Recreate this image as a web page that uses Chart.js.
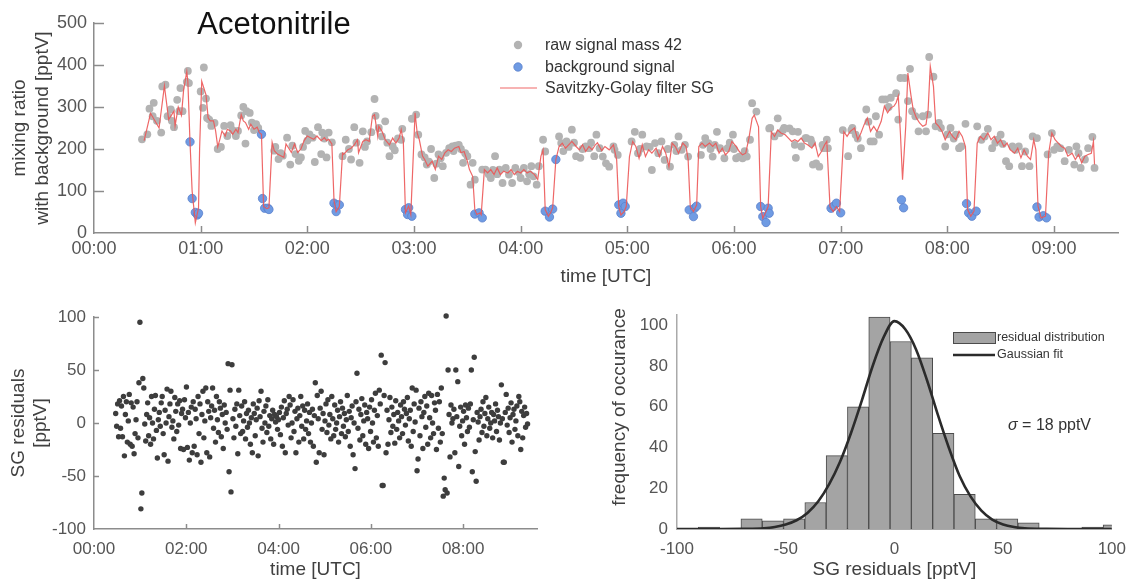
<!DOCTYPE html>
<html><head><meta charset="utf-8">
<script src="https://cdn.jsdelivr.net/npm/chart.js@4.4.0/dist/chart.umd.min.js"></script>
<style>
html,body{margin:0;padding:0;background:#fff;}
body{width:1136px;height:581px;position:relative;overflow:hidden;}
.box{position:absolute;}
canvas{display:block;}
</style></head><body>
<div class="box" style="left:0;top:0;"><canvas id="top" width="1136" height="290"></canvas></div>
<div class="box" style="left:0;top:290px;"><canvas id="res" width="560" height="291"></canvas></div>
<div class="box" style="left:570px;top:290px;"><canvas id="hist" width="566" height="291"></canvas></div>
<script>
// ---------------- data ----------------
const hourTicks = [0,1,2,3,4,5,6,7,8,9];
// raw signal mass 42 : [time (h UTC), pptV]
const rawSeries = [
[0.45,223],[0.50,235],[0.52,296],[0.55,278],[0.56,310],[0.59,267],[0.63,239],[0.64,349],[0.67,353],[0.69,278],[0.72,294],[0.73,267],[0.75,252],[0.78,317],[0.80,290],[0.81,345],[0.83,290],[0.87,360],[0.88,386],[0.89,357],
[1.00,337],[1.02,298],[1.03,394],[1.05,320],[1.06,274],[1.08,270],[1.10,255],[1.13,262],[1.16,200],[1.19,205],[1.22,255],[1.25,231],[1.28,257],[1.30,245],[1.33,231],[1.35,243],[1.38,280],[1.40,300],[1.42,213],[1.43,290],[1.46,286],[1.48,263],[1.50,245],[1.52,259],[1.54,250],
[1.69,196],[1.70,205],[1.73,176],[1.75,190],[1.77,184],[1.81,227],[1.84,163],[1.86,208],[1.89,188],[1.92,172],[1.94,180],[1.96,205],[1.98,243],[2.00,220],[2.02,235],[2.05,227],[2.07,169],[2.10,252],[2.13,188],[2.14,239],[2.16,225],[2.18,180],[2.20,239],[2.23,216],
[2.33,183],[2.36,222],[2.39,200],[2.41,175],[2.44,252],[2.46,215],[2.49,167],[2.52,242],[2.54,205],[2.56,218],[2.60,240],[2.63,319],[2.64,279],[2.67,250],[2.70,230],[2.73,266],[2.75,215],[2.77,183],[2.80,206],[2.82,197],[2.85,225],[2.88,222],[2.89,248],
[2.98,272],[3.02,282],[3.04,234],[3.07,187],[3.10,180],[3.12,163],[3.14,170],[3.16,200],[3.19,131],[3.21,165],[3.23,187],[3.25,178],[3.27,159],[3.30,191],[3.33,202],[3.36,206],[3.37,195],[3.39,208],[3.42,210],[3.44,200],[3.46,167],[3.48,190],[3.50,183],[3.53,115],[3.55,167],[3.57,127],
[3.64,151],[3.67,151],[3.70,140],[3.72,131],[3.74,150],[3.76,183],[3.78,140],[3.80,151],[3.83,119],[3.86,155],[3.89,139],[3.92,119],[3.95,155],[3.98,145],[4.00,131],[4.03,155],[4.06,123],[4.08,140],[4.10,159],[4.12,135],[4.15,115],[4.17,159],[4.21,222],[4.23,194],
[4.36,230],[4.38,214],[4.40,195],[4.43,218],[4.45,205],[4.48,246],[4.50,215],[4.52,183],[4.56,179],[4.58,200],[4.61,206],[4.64,202],[4.66,215],[4.69,183],[4.71,234],
[4.74,202],[4.77,182],[4.80,166],[4.83,158],[4.87,206],[4.88,198],[4.91,186],
[5.04,218],[5.07,241],[5.10,190],[5.12,200],[5.14,234],[5.18,206],[5.21,205],[5.23,150],[5.26,214],[5.29,190],[5.32,218],[5.35,174],[5.38,200],[5.40,158],[5.44,210],[5.46,195],[5.48,230],[5.51,198],[5.54,210],[5.57,182],
[5.69,186],[5.71,210],[5.73,226],[5.76,214],[5.78,200],[5.80,182],[5.82,210],[5.84,241],[5.87,202],[5.91,178],[5.94,202],[5.96,215],[5.99,234],[6.00,200],[6.02,178],[6.05,182],[6.08,178],[6.10,195],[6.12,182],[6.15,222],[6.17,309],[6.21,289],
[6.33,249],[6.34,250],[6.38,230],[6.41,273],[6.43,238],[6.46,245],[6.47,250],[6.52,249],[6.55,242],[6.57,210],[6.58,179],[6.60,241],[6.63,206],[6.67,226],[6.68,226],[6.72,222],[6.73,214],[6.74,163],[6.77,166],[6.80,158],[6.83,210],[6.84,202],[6.87,222],[6.88,202],
[7.02,245],[7.07,183],[7.10,245],[7.11,250],[7.14,234],[7.16,225],[7.19,202],[7.24,294],[7.26,265],[7.28,218],[7.31,218],[7.33,278],[7.36,234],[7.39,318],[7.42,318],[7.45,300],[7.47,322],[7.52,333],[7.54,270],[7.56,369],[7.60,369],[7.63,314],[7.65,391],[7.67,290],[7.70,278],[7.73,242],[7.77,278],[7.80,242],[7.82,282],[7.83,419],[7.87,372],[7.89,254],[7.92,262],[7.94,250],[7.98,206],
[8.00,235],[8.03,250],[8.06,225],[8.08,234],[8.11,202],[8.13,206],[8.17,260],[8.28,254],[8.32,222],[8.35,230],[8.38,248],[8.42,202],[8.45,215],[8.47,222],[8.50,234],[8.52,212],[8.55,171],[8.58,159],[8.61,206],[8.64,198],[8.67,206],[8.70,159],[8.73,194],[8.77,159],[8.80,230],[8.84,226],
[8.94,187],[8.98,238],[9.00,198],[9.03,206],[9.06,202],[9.10,171],[9.14,198],[9.19,163],[9.21,206],[9.23,190],[9.25,155],[9.29,175],[9.32,202],[9.36,229],[9.38,155]
];
// background signal : [time (h UTC), pptV]
const bgSeries = [
[0.90,217],[0.92,82],[0.95,49],[0.97,43],[0.98,47],[1.57,235],[1.58,82],[1.60,59],[1.63,59],[1.64,56],
[2.25,71],[2.27,51],[2.28,67],[2.30,67],[2.92,56],[2.94,44],[2.95,60],[2.98,40],[3.57,45],[3.61,48],[3.64,36],
[4.23,52],[4.27,38],[4.30,57],[4.33,175],[4.92,67],[4.94,47],[4.96,71],[4.98,63],[5.58,55],[5.62,39],[5.63,59],[5.65,64],
[6.25,63],[6.27,39],[6.30,25],[6.32,59],[6.33,47],[6.91,59],[6.93,63],[6.96,71],[7.00,48],[7.57,79],[7.59,60],
[8.18,70],[8.20,48],[8.23,40],[8.27,52],[8.84,62],[8.86,38],[8.90,41],[8.93,36]
];
// Savitzky-Golay filter : [time (h UTC), pptV]
const sgSeries = [
[0.47,220],[0.53,285],[0.61,250],[0.66,350],[0.70,270],[0.75,290],[0.76,255],[0.79,300],[0.82,280],[0.84,340],[0.87,384],[0.88,360],[0.90,217],[0.92,100],[0.95,24],[0.98,60],[0.99,200],
[1.01,361],[1.05,329],[1.07,274],[1.09,267],[1.12,267],[1.14,243],[1.16,205],[1.18,223],[1.20,243],[1.23,231],[1.25,247],[1.28,243],[1.30,235],[1.33,247],[1.35,239],[1.38,282],[1.40,267],[1.42,263],[1.45,247],[1.47,259],[1.50,247],[1.53,252],[1.55,239],[1.57,235],[1.59,63],[1.62,58],[1.64,60],
[1.67,216],[1.69,196],[1.72,188],[1.75,184],[1.78,180],[1.80,212],[1.83,200],[1.85,192],[1.88,212],[1.91,192],[1.94,200],[1.97,220],[2.00,231],[2.03,227],[2.06,223],[2.09,231],[2.13,220],[2.16,227],[2.18,220],[2.20,223],[2.23,212],[2.25,78],[2.27,51],[2.30,63],
[2.33,190],[2.34,187],[2.38,198],[2.41,202],[2.44,210],[2.47,222],[2.48,191],[2.52,218],[2.55,222],[2.58,218],[2.61,278],[2.63,282],[2.66,230],[2.67,254],[2.70,242],[2.73,222],[2.77,210],[2.80,226],[2.83,214],[2.86,226],[2.88,246],[2.90,218],[2.92,48],[2.95,64],[2.97,44],
[3.01,286],[3.03,238],[3.05,222],[3.08,183],[3.10,175],[3.13,159],[3.17,171],[3.20,151],[3.23,183],[3.26,175],[3.29,191],[3.32,198],[3.35,194],[3.38,202],[3.42,206],[3.44,191],[3.47,194],[3.50,171],[3.52,151],[3.55,135],[3.57,56],[3.59,44],[3.62,48],[3.63,44],
[3.66,151],[3.69,143],[3.72,151],[3.75,139],[3.78,155],[3.81,139],[3.84,147],[3.88,143],[3.91,151],[3.94,139],[3.97,147],[4.00,143],[4.03,151],[4.06,143],[4.09,147],[4.13,139],[4.16,127],[4.19,183],[4.21,198],[4.23,56],[4.26,40],[4.28,48],[4.30,60],
[4.33,175],[4.36,206],[4.39,214],[4.42,202],[4.45,210],[4.48,218],[4.52,206],[4.55,198],[4.58,210],[4.61,194],[4.64,206],[4.67,198],[4.70,210],[4.72,215],[4.76,196],[4.79,206],[4.83,198],[4.87,210],[4.90,174],[4.92,63],[4.94,43],[4.97,51],[4.99,63],
[5.02,182],[5.05,218],[5.08,206],[5.11,178],[5.14,210],[5.17,182],[5.20,198],[5.23,190],[5.27,202],[5.30,182],[5.33,206],[5.36,190],[5.39,158],[5.42,214],[5.45,206],[5.48,190],[5.52,214],[5.55,206],[5.57,174],[5.59,63],[5.62,51],[5.65,67],
[5.67,206],[5.70,214],[5.73,206],[5.77,214],[5.80,206],[5.83,214],[5.86,190],[5.89,202],[5.92,186],[5.95,194],[5.98,218],[6.02,206],[6.05,194],[6.08,186],[6.11,190],[6.14,226],[6.17,273],[6.19,281],[6.23,253],[6.25,63],[6.27,35],[6.30,51],[6.32,63],
[6.35,241],[6.38,230],[6.41,245],[6.44,238],[6.48,234],[6.51,226],[6.54,218],[6.57,222],[6.60,218],[6.63,226],[6.66,214],[6.69,210],[6.73,202],[6.76,214],[6.79,182],[6.82,194],[6.85,210],[6.87,218],[6.90,63],[6.93,51],[6.96,63],[6.99,51],
[7.03,241],[7.06,230],[7.09,242],[7.13,250],[7.16,222],[7.19,238],[7.22,258],[7.25,274],[7.28,242],[7.31,254],[7.34,242],[7.38,266],[7.41,302],[7.44,286],[7.47,298],[7.50,302],[7.52,310],[7.54,326],[7.56,238],[7.58,127],[7.61,254],[7.63,381],
[7.66,326],[7.68,294],[7.71,274],[7.74,262],[7.77,254],[7.80,258],[7.82,294],[7.84,397],[7.87,349],[7.89,262],[7.92,254],[7.95,242],[7.98,222],[8.02,242],[8.05,230],[8.08,222],[8.11,242],[8.14,230],[8.17,206],[8.19,56],[8.22,40],[8.25,52],
[8.28,214],[8.31,230],[8.34,222],[8.38,238],[8.41,222],[8.44,230],[8.47,214],[8.50,222],[8.53,206],[8.56,214],[8.59,198],[8.63,190],[8.66,202],[8.69,179],[8.72,198],[8.75,183],[8.78,175],[8.81,222],[8.83,198],[8.85,64],[8.88,36],[8.92,40],
[8.95,190],[8.98,238],[9.01,222],[9.04,214],[9.07,206],[9.10,202],[9.13,183],[9.17,190],[9.20,175],[9.23,187],[9.26,167],[9.29,183],[9.32,187],[9.35,190],[9.37,218],[9.38,163]
];
// SG residuals, sampled every 1.26 min from 00:28 UTC
const residualStartHour = 0.47;
const residualStepHour = 0.021;
const residualValues = [
9,-3,18,-13,21,-5,16,-13,25,-31,
8,20,-18,2,27,-20,19,-22,15,-29,
-10,3,20,-14,38,95,-81,-66,42,33,
-1,-17,8,19,-12,5,-20,25,0,-15,
13,26,-7,-33,3,10,-3,19,25,-10,
-30,12,0,32,-36,6,18,30,-4,2,
-15,24,11,-8,18,-2,21,-24,9,13,
-25,22,5,34,-23,10,-35,0,15,-28,
20,-22,13,4,-30,25,-10,18,-37,8,
30,-14,2,33,-28,20,11,-32,5,16,
33,-5,12,-18,25,3,-9,20,14,-13,
8,-24,17,0,10,-6,56,-46,31,-65,
55,4,-14,13,-3,18,-29,31,7,-10,
16,-8,2,20,-15,9,-4,12,0,-20,
5,-28,18,9,-12,3,14,-31,21,6,
30,-5,-18,11,0,16,-9,22,-3,7,
-15,4,12,-20,8,1,6,-6,3,10,
-11,15,-22,5,21,-28,9,13,-2,25,
17,-14,0,22,-8,11,-28,4,14,-18,
7,25,-3,16,-15,12,-6,2,18,-10,
10,-18,0,13,-22,7,38,-37,26,4,
-28,14,30,-6,9,-30,2,18,-9,22,
-2,8,-15,25,4,-12,17,-6,0,12,
-18,6,20,-10,14,-3,9,-13,3,26,
-8,11,-22,5,16,-30,0,-43,20,47,
-5,13,-16,8,23,-12,2,17,-20,10,
4,-24,15,-8,22,0,-18,12,28,-14,
7,-22,31,18,64,-59,-59,26,57,-28,
12,-20,3,24,-9,15,-3,8,-19,21,
-6,10,2,-14,17,6,-10,20,13,-2,
9,24,-17,4,12,-22,33,-8,18,1,
31,-45,-34,14,-12,20,6,-24,10,25,
-4,16,-20,28,5,-14,26,0,-10,19,
12,-25,27,-5,20,-18,33,-10,-69,-52,
-63,101,-66,50,8,-32,17,0,4,13,
-28,50,6,39,-41,-3,15,-12,2,11,
-20,17,5,-8,14,-4,18,50,-46,3,
62,-27,-55,10,1,-16,6,13,-9,20,
-3,9,24,-12,4,15,-5,0,10,-14,
8,2,18,-8,12,6,-16,0,36,4,
-37,-37,10,27,-2,14,-9,5,19,-18,
8,13,-6,2,16,-12,25,20,-25,11,
-14,7,15,-4,9,-1
];
// histogram of residuals
const binCenters = [-95.1,-85.3,-75.5,-65.7,-55.9,-46.1,-36.3,-26.5,-16.7,-6.9,2.9,12.7,22.5,32.3,42.1,51.9,61.7,71.5,81.3,91.1,100.9];
const binCounts  = [0,1,0,5,4,5,13,36,60,104,92,84,47,17,5,5,3,0,0,1,2];
// Gaussian fit curve (sigma = 18 pptV)
const gaussX = [-100,-80,-70,-60,-55,-50,-45,-40,-35,-30,-25,-20,-15,-10,-5,0,5,10,15,20,25,30,35,40,45,50,55,60,70,80,100];
const gaussY = [0,0,0.1,0.4,1.0,2.2,4.3,7.9,13.6,22,33,47,63,80,94,102,98,88,73,56,40,26,16,9,4.6,2.2,1,0.4,0.1,0,0];

// ---------------- helpers ----------------
const FONT = "'Liberation Sans', Arial, Helvetica, sans-serif";
Chart.defaults.font.family = FONT;
const hhmm = v => (v < 10 ? '0' : '') + v + ':00';
const pts = arr => arr.map(p => ({x: p[0], y: p[1]}));

const inwardTicks = {
  id: 'inwardTicks',
  afterDatasetsDraw(chart, args, o) {
    if (!o || (!o.x && !o.y)) return;
    const ctx = chart.ctx, a = chart.chartArea, xs = chart.scales.x, ys = chart.scales.y;
    ctx.save();
    ctx.strokeStyle = o.color; ctx.lineWidth = o.width || 1;
    if (o.x) xs.ticks.forEach(t => {
      const p = Math.round(xs.getPixelForValue(t.value)) + 0.5;
      if (p <= a.left + 2) return;
      ctx.beginPath(); ctx.moveTo(p, a.bottom); ctx.lineTo(p, a.bottom - o.x); ctx.stroke();
    });
    if (o.y) ys.ticks.forEach(t => {
      const p = Math.round(ys.getPixelForValue(t.value)) + 0.5;
      if (p >= a.bottom - 2) return;
      ctx.beginPath(); ctx.moveTo(a.left, p); ctx.lineTo(a.left + o.y, p); ctx.stroke();
    });
    ctx.restore();
  }
};

function axisCommon(size, pad) {
  return {
    grid: {display: false, drawTicks: false},
    border: {display: true, color: '#8c8c8c', width: 1.5},
    ticks: {font: {size: size}, color: '#555', padding: pad, maxRotation: 0, autoSkip: false, includeBounds: false}
  };
}

// ---------------- top chart ----------------
const topDecor = {
  id: 'topDecor',
  afterDraw(chart) {
    const ctx = chart.ctx;
    ctx.save();
    ctx.fillStyle = '#111';
    ctx.font = '31px ' + FONT;
    ctx.textAlign = 'center'; ctx.textBaseline = 'middle';
    ctx.fillText('Acetonitrile', 274, 25);
    const ds = chart.data.datasets;
    ctx.font = '16px ' + FONT; ctx.textAlign = 'left'; ctx.fillStyle = '#333';
    const rows = [
      {y: 45, label: ds[2].label, kind: 'dot', fill: ds[2].backgroundColor, stroke: null},
      {y: 67, label: ds[1].label, kind: 'dot', fill: ds[1].backgroundColor, stroke: ds[1].borderColor},
      {y: 88, label: ds[0].label, kind: 'line', stroke: ds[0].borderColor}
    ];
    rows.forEach(r => {
      if (r.kind === 'dot') {
        ctx.beginPath(); ctx.arc(518, r.y, 4.2, 0, Math.PI * 2);
        ctx.fillStyle = r.fill; ctx.fill();
        if (r.stroke) { ctx.strokeStyle = r.stroke; ctx.lineWidth = 0.8; ctx.stroke(); }
      } else {
        ctx.beginPath(); ctx.moveTo(500, r.y); ctx.lineTo(537, r.y);
        ctx.strokeStyle = r.stroke; ctx.lineWidth = 1.2; ctx.stroke();
      }
      ctx.fillStyle = '#333';
      ctx.fillText(r.label, 545, r.y + 1);
    });
    ctx.restore();
  }
};

new Chart(document.getElementById('top'), {
  type: 'scatter',
  data: {datasets: [
    {label: 'Savitzky-Golay filter SG', data: pts(sgSeries), showLine: true, borderColor: 'rgba(236,86,86,0.9)', borderWidth: 1.2, pointRadius: 0, order: 0},
    {label: 'background signal', data: pts(bgSeries), pointRadius: 4.2, backgroundColor: '#6f9be3', borderColor: '#5a80cc', borderWidth: 0.8, order: 1},
    {label: 'raw signal mass 42', data: pts(rawSeries), pointRadius: 3.9, backgroundColor: '#b3b3b3', borderWidth: 0, order: 2}
  ]},
  options: {
    responsive: false, animation: false, events: [],
    layout: {padding: {top: 23, right: 18, left: 0, bottom: 0}},
    plugins: {legend: {display: false}, tooltip: {enabled: false}, inwardTicks: {x: 7, y: 10, color: '#8c8c8c', width: 1.5}},
    scales: {
      x: Object.assign(axisCommon(18, 5), {
        type: 'linear', min: 0, max: 9.6,
        afterBuildTicks: s => { s.ticks = hourTicks.map(v => ({value: v})); },
        title: {display: true, text: 'time [UTC]', font: {size: 19}, color: '#404040', padding: {top: 0, bottom: 2}},
        afterFit: s => { s.height = 57; }
      }),
      y: Object.assign(axisCommon(18, 7), {
        min: 0, max: 500,
        title: {display: true, text: ['mixing ratio', 'with background [pptV]'], font: {size: 19}, color: '#404040', padding: {top: 8.6, bottom: 0}},
        afterFit: s => { s.width = 94; }
      })
    }
  },
  plugins: [inwardTicks, topDecor]
});
{
  const c = Chart.getChart('top');
  c.options.scales.x.ticks.callback = v => hhmm(v);
  c.options.scales.y.ticks.stepSize = 100;
  c.update();
}

// ---------------- residual scatter ----------------
const resPoints = residualValues.map((v, i) => ({x: residualStartHour + i * residualStepHour, y: v}));
new Chart(document.getElementById('res'), {
  type: 'scatter',
  data: {datasets: [{label: 'SG residuals', data: resPoints, pointRadius: 2.7, backgroundColor: '#3d3d3d', borderWidth: 0, clip: false}]},
  options: {
    responsive: false, animation: false, events: [],
    layout: {padding: {top: 27, right: 23, left: 0, bottom: 0}},
    plugins: {legend: {display: false}, tooltip: {enabled: false}, inwardTicks: {x: 5, y: 5, color: '#8c8c8c', width: 1.5}},
    scales: {
      x: Object.assign(axisCommon(17, 10), {
        type: 'linear', min: 0, max: 9.6,
        title: {display: true, text: 'time [UTC]', font: {size: 19}, color: '#404040', padding: {top: 0, bottom: 0}},
        afterFit: s => { s.height = 52; }
      }),
      y: Object.assign(axisCommon(17, 8), {
        min: -100, max: 100,
        title: {display: true, text: ['SG residuals', '[pptV]'], font: {size: 19}, color: '#404040', padding: {top: 7, bottom: 0}},
        afterFit: s => { s.width = 94; }
      })
    }
  },
  plugins: [inwardTicks]
});
{
  const c = Chart.getChart('res');
  c.options.scales.x.ticks.stepSize = 2;
  c.options.scales.x.ticks.callback = v => hhmm(v);
  c.options.scales.y.ticks.stepSize = 50;
  c.update();
}

// ---------------- histogram ----------------
const histYTitle = 'frequency of occurance';
const histDecor = {
  id: 'histDecor',
  afterDraw(chart) {
    const ctx = chart.ctx, ds = chart.data.datasets;
    const ox = 570, oy = 290; // canvas offset on page
    ctx.save();
    ctx.fillStyle = ds[1].backgroundColor; ctx.strokeStyle = ds[1].borderColor; ctx.lineWidth = 1;
    ctx.fillRect(953 - ox, 332 - oy, 42, 11); ctx.strokeRect(953.5 - ox, 332.5 - oy, 42, 11);
    ctx.beginPath(); ctx.moveTo(953 - ox, 355 - oy); ctx.lineTo(995 - ox, 355 - oy);
    ctx.strokeStyle = ds[0].borderColor; ctx.lineWidth = 2.6; ctx.stroke();
    ctx.fillStyle = '#333'; ctx.font = '12.5px ' + FONT; ctx.textBaseline = 'middle'; ctx.textAlign = 'left';
    ctx.fillText(ds[1].label, 997 - ox, 338 - oy);
    ctx.fillText(ds[0].label, 997 - ox, 355 - oy);
    ctx.font = 'italic 16px ' + FONT;
    ctx.fillText('\u03C3', 1008 - ox, 426 - oy);
    const w = ctx.measureText('\u03C3').width;
    ctx.font = '16px ' + FONT;
    ctx.fillText(' = 18 pptV', 1008 - ox + w, 426 - oy);
    // y axis title (placed as in the original, slightly above centre)
    ctx.translate(620 - ox, 407 - oy);
    ctx.rotate(-Math.PI / 2);
    ctx.font = '19px ' + FONT; ctx.fillStyle = '#404040'; ctx.textAlign = 'center';
    ctx.fillText(histYTitle, 0, 0);
    ctx.restore();
  }
};

new Chart(document.getElementById('hist'), {
  type: 'bar',
  data: {datasets: [
    {type: 'line', label: 'Gaussian fit', data: gaussX.map((x, i) => ({x: x, y: gaussY[i]})), borderColor: '#2b2b2b', borderWidth: 2.6, pointRadius: 0, cubicInterpolationMode: 'monotone', order: 0},
    {type: 'bar', label: 'residual distribution', data: binCenters.map((x, i) => ({x: x, y: binCounts[i]})), backgroundColor: '#a4a4a4', borderColor: '#4c4c4c', borderWidth: 1, barPercentage: 1, categoryPercentage: 1, order: 1}
  ]},
  options: {
    responsive: false, animation: false, events: [],
    layout: {padding: {top: 25, right: 18, left: 0, bottom: 0}},
    plugins: {legend: {display: false}, tooltip: {enabled: false}},
    scales: {
      x: Object.assign(axisCommon(17, 10), {
        type: 'linear', min: -100, max: 100, offset: false,
        border: {display: true, color: '#555', width: 1.5},
        title: {display: true, text: 'SG residuals [pptV]', font: {size: 19}, color: '#404040', padding: {top: 0, bottom: 0}},
        afterFit: s => { s.height = 52; }
      }),
      y: Object.assign(axisCommon(17, 9), {
        min: 0, max: 105,
        border: {display: true, color: '#aaa', width: 1.5},
        title: {display: false},
        afterFit: s => { s.width = 107; }
      })
    }
  },
  plugins: [histDecor]
});
{
  const c = Chart.getChart('hist');
  c.options.scales.x.ticks.stepSize = 50;
  c.options.scales.y.ticks.stepSize = 20;
  c.update();
}
</script>
</body></html>
